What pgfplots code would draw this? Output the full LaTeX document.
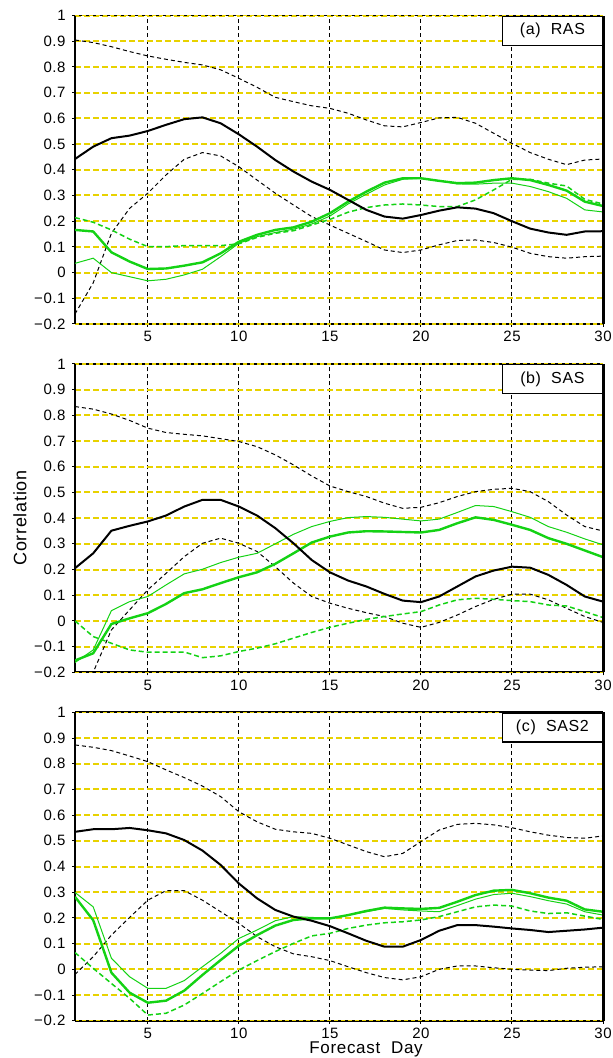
\documentclass[border=0pt]{standalone}
\usepackage{fontspec}
\setmainfont{Liberation Sans}[LetterSpace=4]
\usepackage{pgfplots}
\usepackage{pgfplotstable}
\pgfplotsset{compat=1.18}
\definecolor{gridyellow}{RGB}{232,210,0}
\definecolor{lgreen}{RGB}{20,210,20}

\pgfplotstableread{
day bm bu bl gk gt gd
1 0.442 0.905 -0.161 0.166 0.036 0.214
2 0.490 0.895 -0.040 0.160 0.056 0.196
3 0.523 0.879 0.153 0.079 0.000 0.166
4 0.533 0.860 0.250 0.043 -0.016 0.130
5 0.551 0.843 0.309 0.014 -0.032 0.101
6 0.575 0.830 0.380 0.016 -0.026 0.101
7 0.597 0.818 0.441 0.027 -0.009 0.105
8 0.604 0.808 0.467 0.040 0.013 0.105
9 0.581 0.789 0.454 0.075 0.062 0.105
10 0.538 0.756 0.412 0.120 0.114 0.112
11 0.490 0.721 0.360 0.147 0.140 0.137
12 0.438 0.682 0.309 0.166 0.156 0.153
13 0.393 0.665 0.263 0.176 0.169 0.163
14 0.354 0.649 0.218 0.198 0.189 0.185
15 0.322 0.639 0.185 0.231 0.220 0.207
16 0.283 0.620 0.153 0.276 0.267 0.235
17 0.244 0.594 0.121 0.315 0.305 0.253
18 0.218 0.571 0.088 0.350 0.341 0.263
19 0.210 0.567 0.078 0.367 0.363 0.267
20 0.224 0.584 0.088 0.367 0.367 0.263
21 0.241 0.602 0.108 0.357 0.357 0.257
22 0.254 0.604 0.125 0.348 0.345 0.257
23 0.249 0.581 0.127 0.350 0.344 0.283
24 0.231 0.542 0.117 0.360 0.348 0.322
25 0.200 0.503 0.099 0.367 0.348 0.363
26 0.171 0.467 0.075 0.360 0.335 0.363
27 0.156 0.441 0.062 0.341 0.315 0.348
28 0.147 0.420 0.056 0.319 0.289 0.337
29 0.160 0.438 0.062 0.276 0.244 0.285
30 0.161 0.442 0.064 0.259 0.236 0.267
}\tA

\pgfplotstableread{
day bm bu bl gk gt gd
1 0.205 0.834 -0.300 -0.154 -0.162 0.000
2 0.263 0.824 -0.200 -0.126 -0.113 -0.061
3 0.351 0.805 -0.035 -0.012 0.040 -0.087
4 0.370 0.780 0.043 0.010 0.075 -0.113
5 0.387 0.750 0.121 0.030 0.095 -0.122
6 0.410 0.733 0.185 0.066 0.140 -0.121
7 0.445 0.726 0.250 0.108 0.183 -0.121
8 0.471 0.720 0.302 0.123 0.201 -0.143
9 0.471 0.709 0.322 0.147 0.227 -0.136
10 0.445 0.698 0.302 0.170 0.248 -0.119
11 0.410 0.678 0.270 0.189 0.263 -0.106
12 0.361 0.646 0.211 0.222 0.300 -0.089
13 0.302 0.607 0.147 0.263 0.337 -0.067
14 0.237 0.564 0.095 0.305 0.367 -0.045
15 0.189 0.525 0.069 0.328 0.387 -0.025
16 0.157 0.503 0.049 0.344 0.402 -0.009
17 0.134 0.484 0.032 0.349 0.406 0.006
18 0.105 0.458 0.017 0.348 0.403 0.017
19 0.079 0.438 -0.009 0.346 0.396 0.027
20 0.073 0.442 -0.025 0.344 0.389 0.036
21 0.095 0.460 -0.006 0.354 0.396 0.062
22 0.134 0.484 0.023 0.380 0.422 0.082
23 0.173 0.503 0.056 0.403 0.449 0.088
24 0.196 0.512 0.084 0.393 0.445 0.084
25 0.211 0.516 0.104 0.374 0.425 0.079
26 0.207 0.503 0.104 0.354 0.403 0.075
27 0.179 0.464 0.082 0.322 0.367 0.062
28 0.140 0.412 0.049 0.300 0.345 0.058
29 0.095 0.367 0.017 0.274 0.319 0.036
30 0.075 0.350 -0.006 0.248 0.296 0.013
}\tB

\pgfplotstableread{
day bm bu bl gk gt gd
1 0.535 0.873 -0.020 0.282 0.299 0.065
2 0.545 0.864 0.049 0.191 0.243 0.004
3 0.545 0.851 0.133 -0.013 0.043 -0.055
4 0.550 0.830 0.202 -0.091 -0.029 -0.113
5 0.541 0.808 0.269 -0.130 -0.074 -0.178
6 0.529 0.776 0.306 -0.122 -0.074 -0.171
7 0.503 0.746 0.306 -0.083 -0.044 -0.139
8 0.462 0.713 0.269 -0.022 0.010 -0.094
9 0.406 0.672 0.224 0.036 0.062 -0.048
10 0.334 0.613 0.179 0.092 0.120 -0.003
11 0.276 0.574 0.127 0.133 0.153 0.034
12 0.231 0.545 0.088 0.170 0.189 0.069
13 0.205 0.535 0.060 0.192 0.205 0.101
14 0.189 0.529 0.049 0.198 0.202 0.130
15 0.168 0.510 0.034 0.198 0.198 0.140
16 0.140 0.484 0.010 0.211 0.211 0.159
17 0.111 0.458 -0.013 0.227 0.224 0.172
18 0.088 0.438 -0.032 0.240 0.237 0.181
19 0.088 0.451 -0.041 0.237 0.231 0.185
20 0.114 0.497 -0.029 0.235 0.227 0.192
21 0.150 0.542 0.000 0.239 0.224 0.205
22 0.172 0.564 0.013 0.263 0.248 0.224
23 0.172 0.568 0.013 0.289 0.273 0.243
24 0.166 0.562 0.006 0.306 0.291 0.250
25 0.159 0.551 0.000 0.309 0.296 0.246
26 0.153 0.535 -0.003 0.296 0.283 0.227
27 0.145 0.522 -0.005 0.279 0.267 0.217
28 0.150 0.513 0.004 0.267 0.254 0.220
29 0.155 0.510 0.008 0.233 0.224 0.207
30 0.162 0.519 0.010 0.224 0.211 0.194
}\tC

\pgfplotsset{panel/.style={
 at={(37.5pt,#1)}, anchor=south west, scale only axis, width=264pt, height=154.2pt,
 xmin=1, xmax=30, ymin=-0.2, ymax=1,
 xtick={5,10,15,20,25,30}, xticklabels={5,10,15,20,25,30},
 ytick={-0.2,-0.1,0,0.1,0.2,0.3,0.4,0.5,0.6,0.7,0.8,0.9,1},
 yticklabels={−0.2,−0.1,0,0.1,0.2,0.3,0.4,0.5,0.6,0.7,0.8,0.9,1},
 xmajorgrids, ymajorgrids,
 x grid style={black, line width=0.5pt, dash pattern=on 2pt off 1.5pt},
 y grid style={gridyellow, line width=1pt, dash pattern=on 3pt off 1.5pt},
 separate axis lines,
 every outer x axis line/.append style={black, line width=0.9pt, postaction={draw=gridyellow, line width=0.6pt, dash pattern=on 2pt off 1.5pt}},
 every outer y axis line/.append style={black, line width=0.9pt},
 tick align=outside, major tick length=1.5pt, tick pos=left,
 tick style={black, line width=0.5pt},
 ticklabel style={font=\fontsize{7.5}{9}\selectfont, inner sep=0pt},
 xticklabel style={yshift=-2pt},
 yticklabel style={xshift=-3pt},
 clip mode=individual,
}}

\newcommand\panelplots[2]{%
 \addplot[black, line width=0.5pt, dash pattern=on 2pt off 1.5pt] table[x=day,y=bu]{#1};
 \addplot[black, line width=0.5pt, dash pattern=on 2pt off 1.5pt] table[x=day,y=bl]{#1};
 \addplot[lgreen, line width=0.75pt, dash pattern=on 2.5pt off 1.5pt] table[x=day,y=gd]{#1};
 \addplot[lgreen, line width=0.5pt] table[x=day,y=gt]{#1};
 \addplot[lgreen, line width=1.2pt] table[x=day,y=gk]{#1};
 \addplot[black, line width=1pt] table[x=day,y=bm]{#1};
 \draw[black, line width=1.5pt] (rel axis cs:1,0) -- (rel axis cs:1,1);
 \node[draw=black, line width=0.6pt, fill=white, anchor=north east, minimum width=50pt, minimum height=14.5pt, inner sep=0pt, font=\fontsize{8}{9.6}\selectfont] at (rel axis cs:1,1) {#2};
}

\begin{document}
\begin{tikzpicture}
\path[use as bounding box] (0,0) rectangle (306pt,-529pt);
\begin{axis}[panel={-162pt}]
\panelplots{\tA}{(a)\ \ RAS}
\end{axis}
\begin{axis}[panel={-336.15pt}]
\panelplots{\tB}{(b)\ \ SAS}
\end{axis}
\begin{axis}[panel={-510.35pt}]
\panelplots{\tC}{(c)\ \ SAS2}
\end{axis}
\node[rotate=90, font=\fontsize{9}{11}\selectfont] at (10pt,-259pt) {Correlation};
\node[inner sep=0pt, anchor=base, font=\fontsize{8.5}{10}\selectfont] at (183pt,-526.5pt) {Forecast\ \ Day};
\end{tikzpicture}
\end{document}
